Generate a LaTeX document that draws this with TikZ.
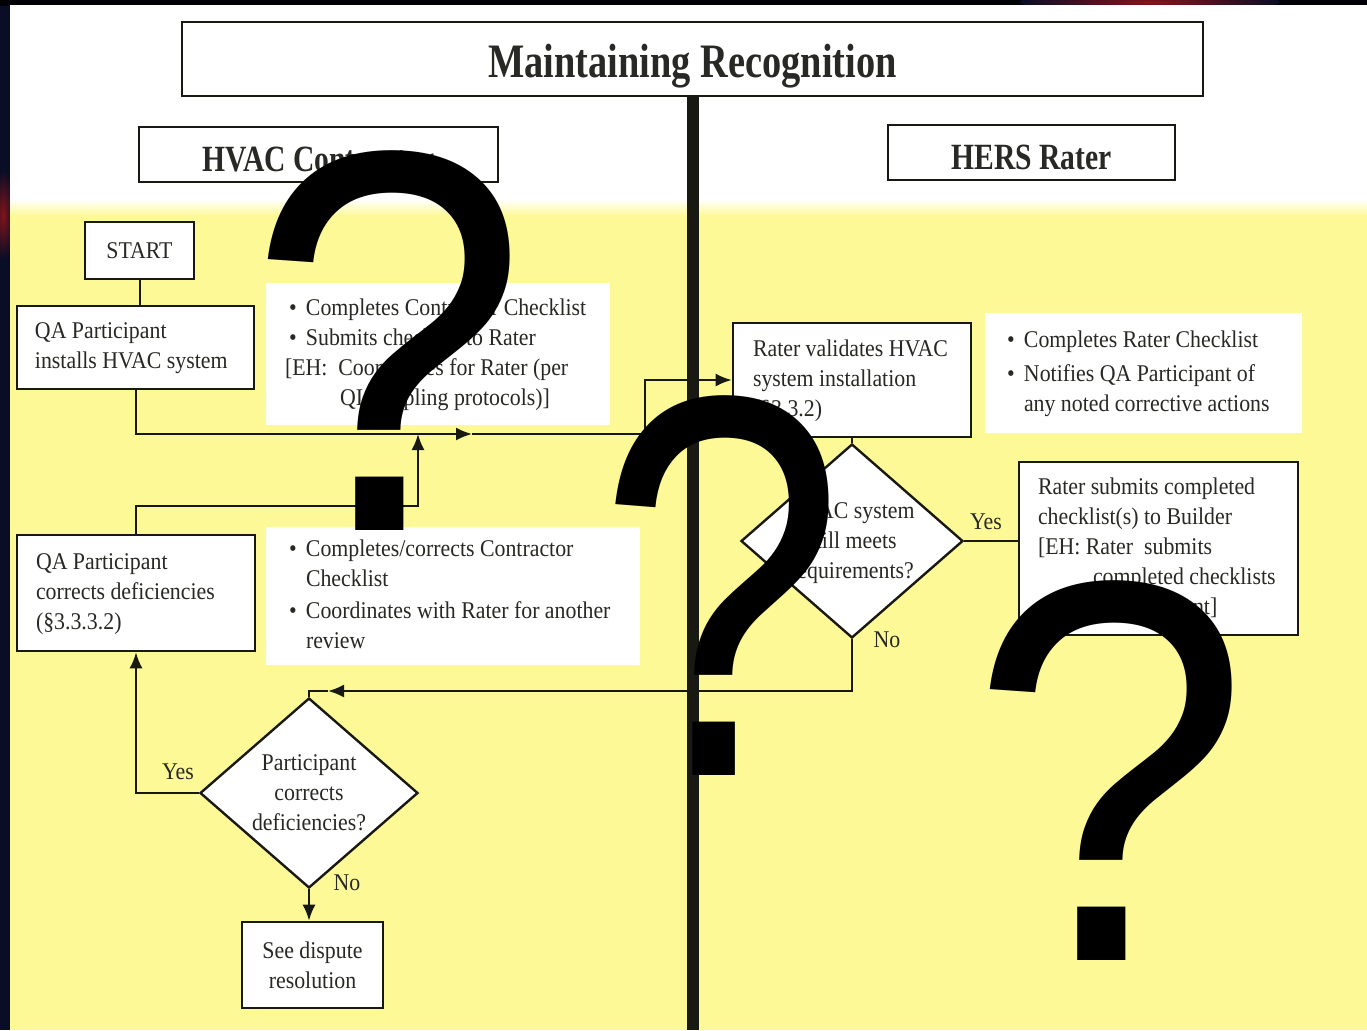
\documentclass[tikz,border=0pt]{standalone}
\usepackage{fontspec}
\setmainfont{Liberation Serif}[FakeStretch=0.91]
\newfontfamily\headfont{Liberation Serif}[FakeStretch=0.8]
\newfontfamily\qfont{Liberation Sans}[FakeStretch=0.93]
\newfontfamily\qnarrowfont{Liberation Sans}[FakeStretch=0.82]
\usetikzlibrary{shapes.geometric,arrows.meta}

\definecolor{slideyellow}{RGB}{253,249,150}
\definecolor{navy}{RGB}{9,13,38}
\definecolor{ink}{RGB}{40,40,36}
\definecolor{edge}{RGB}{25,25,20}

\newcommand\bodysize{\fontsize{12}{15}\selectfont}
\newcommand\titlesize{\headfont\bfseries\fontsize{24}{28}\selectfont}
\newcommand\headsize{\headfont\bfseries\fontsize{18.5}{22}\selectfont}
\newcommand\qmfont{\qfont\fontsize{272}{272}\selectfont}
\newcommand\qmnarrow{\qnarrowfont\fontsize{272}{272}\selectfont}
% left-aligned block of lines inside a box of given width, with a left inset
\newcommand\inbox[3]{\makebox[#1][l]{\hspace{#2}\begin{tabular}{@{}l@{}}#3\end{tabular}}}
\newcommand\bul{\makebox[8.5pt][l]{\textbullet}}
% lower a heading inside its frame without changing the frame
\newcommand\lowerby[2]{\raisebox{-#1}[\height][\depth]{#2}}

\begin{document}
\begin{tikzpicture}[x=0.5pt,y=-0.5pt,
  box/.style={draw=edge, line width=1.3pt, fill=white, inner sep=0pt, text=ink, font=\bodysize},
  note/.style={fill=white, inner sep=0pt, text=ink, font=\bodysize},
  dia/.style={draw=edge, line width=1.2pt, fill=white, diamond, inner sep=0pt},
  conn/.style={draw=edge, line width=1pt},
  tip/.style={-{Latex[length=8pt,width=6.5pt]}},
  lbl/.style={text=ink, font=\bodysize, inner sep=0pt},
  qmark/.style={font=\qmfont, text=black, inner sep=0pt, anchor=base},
]
\useasboundingbox (0,0) rectangle (1367,1030);

% backdrop
\fill[navy] (0,0) rectangle (1367,1030);
\fill[black!85!navy] (0,0) rectangle (1367,6);
\shade[inner color={rgb,255:red,140;green,20;blue,25}, outer color=navy] (1150,2) ellipse (130 and 10);
\shade[inner color={rgb,255:red,130;green,20;blue,25}, outer color=navy] (3,215) ellipse (12 and 45);

% slide: white header band fading into yellow
\fill[white] (10,5) rectangle (1367,200);
\shade[top color=white, bottom color=slideyellow] (10,199) rectangle (1367,216);
\fill[slideyellow] (10,215) rectangle (1367,1030);

% headings
\node[box, minimum width=510.5pt, minimum height=37pt, font=\titlesize] (title) at (692.5,59) {\lowerby{3.5pt}{Maintaining Recognition}};
\node[box, minimum width=179.5pt, minimum height=27.5pt, font=\headsize] (hvac) at (318.5,154.5) {\lowerby{2.5pt}{HVAC Contractor}};
\node[box, minimum width=143.5pt, minimum height=27.5pt, font=\headsize] (hers) at (1031.5,152.5) {\lowerby{2.5pt}{HERS Rater}};

% swim-lane divider
\coordinate (divend) at (693,1030);
\draw[edge, line width=6pt] (title.south) -- (title.south |- divend);

% contractor lane
\node[box, minimum width=54.5pt, minimum height=28.5pt] (start) at (139.5,250.5) {START};
\node[box, minimum height=41.5pt] (install) at (135.5,347.5)
  {\inbox{118.5pt}{9pt}{QA Participant\\installs HVAC system}};
\node[note, minimum height=71pt] (n1) at (438,354)
  {\inbox{172pt}{9.5pt}{\hspace*{2pt}\bul Completes Contractor Checklist\\
   \hspace*{2pt}\bul Submits checklist to Rater\\
   {[}EH:\ \ Coordinates for Rater (per\\
   \hspace*{27.5pt}QI sampling protocols)]}};
\node[box, minimum height=58pt] (corrects) at (136,593)
  {\inbox{119pt}{9.5pt}{QA Participant\\corrects deficiencies\\(§3.3.3.2)}};
\node[note, minimum height=69pt] (n3) at (453,596)
  {\inbox{187pt}{11.5pt}{\bul Completes/corrects Contractor\\
   \hspace*{8.5pt}Checklist\\[1pt]
   \bul Coordinates with Rater for another\\
   \hspace*{8.5pt}review}};
\node[dia, minimum width=109pt, minimum height=95pt] (d2) at (309,793) {};
\node[lbl, align=center] (d2t) at (d2) {Participant\\corrects\\deficiencies?};
\node[box, minimum width=70.5pt, minimum height=43pt, align=center] (dispute) at (312.5,965) {See dispute\\resolution};

% rater lane
\node[box, minimum height=57pt] (validate) at (852,380)
  {\inbox{119pt}{10pt}{Rater validates HVAC\\system installation\\(§3.3.2)}};
\node[note, minimum height=60pt] (n2) at (1143.5,373)
  {\inbox{158.5pt}{11pt}{\bul Completes Rater Checklist\\[2pt]
   \bul Notifies QA Participant of\\
   \hspace*{8.5pt}any noted corrective actions}};
\node[dia, minimum width=111pt, minimum height=97pt] (d1) at (852,541) {};
\node[lbl, align=center] (d1t) at ([yshift=-1pt]d1) {HVAC system\\still meets\\requirements?};
\node[box, minimum height=86.5pt] (submits) at (1158.5,548.5)
  {\inbox{139.5pt}{9.5pt}{Rater submits completed\\
   checklist(s) to Builder\\
   {[}EH: Rater\ \ submits\\
   \hspace*{27.5pt}completed checklists\\
   \hspace*{27.5pt}to Participant]}};

% connectors
\coordinate (m1) at (472,434);
\coordinate (j1) at (645,434);
\coordinate (k1) at (418,506);
\coordinate (k2) at (418,434);
\coordinate (m2) at (328,691);
\draw[conn] (start.south) -- (start.south |- install.north);
\draw[conn,tip] (install.south) |- (m1);
\draw[conn,tip] (m1) -- (j1) |- (validate.west);
\draw[conn,tip] (corrects.north) |- (k1) -- (k2);
\draw[conn] (validate.south) -- (d1.north);
\draw[conn] (d1.east) -- (d1.east -| submits.west);
\draw[conn,tip] (d1.south) |- (m2);
\draw[conn] (m2) -| (d2.north);
\draw[conn,tip] (d2.west) -| (corrects.south);
\draw[conn,tip] (d2.south) -- (d2.south |- dispute.north);

% branch labels
\node[lbl] (yes1) at (986,522) {Yes};
\node[lbl] (no1) at (887,640) {No};
\node[lbl] (yes2) at (178,772) {Yes};
\node[lbl] (no2) at (347,883) {No};

% large question marks on top
\node[qmark] (q1) at (388,530) {?};
\node[qmark, font=\qmnarrow] (q2) at (722,775) {?};
\node[qmark] (q3) at (1110,960) {?};
\end{tikzpicture}
\end{document}
